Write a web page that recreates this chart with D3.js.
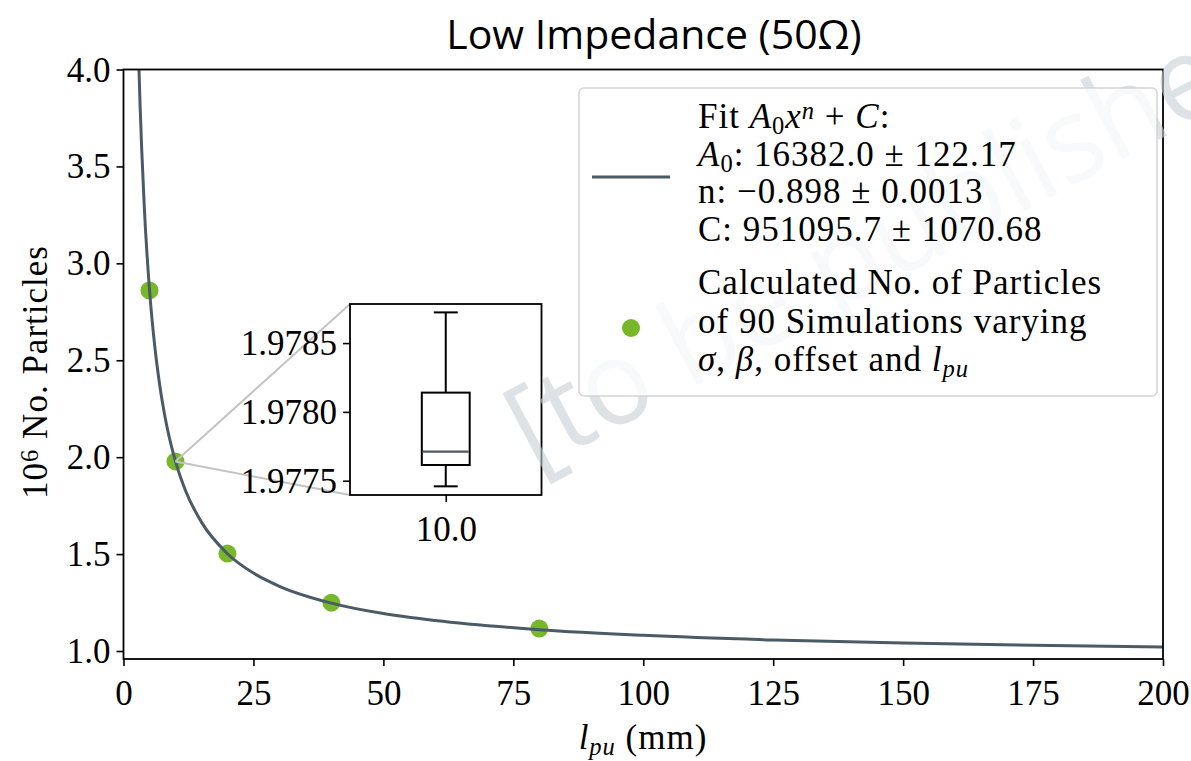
<!DOCTYPE html>
<html>
<head>
<meta charset="utf-8">
<script src="https://cdn.jsdelivr.net/npm/d3@7/dist/d3.min.js"></script>
<style>
  html, body { margin: 0; padding: 0; background: #fff; }
  svg { display: block; }
  .serif { font-family: "Liberation Serif", "DejaVu Serif", serif; }
</style>
</head>
<body>
<svg id="chart" width="1191" height="761"></svg>
<script>
// ---------------- data ----------------
const pointX = [5, 10, 20, 40, 80];
const pointY = [2.86, 1.978, 1.503, 1.249, 1.116];

// fit curve
const fitX = [2.9, 3.2, 3.5, 4, 5, 6, 7, 8, 10, 12, 15, 20, 25, 30, 40, 50, 60, 80, 100, 125, 150, 175, 200];
const fitY = [4.07, 3.81, 3.59, 3.29, 2.865, 2.576, 2.366, 2.206, 1.978, 1.823, 1.665, 1.502, 1.402, 1.334, 1.247, 1.193, 1.157, 1.110, 1.081, 1.057, 1.041, 1.030, 1.021];

const xTicks = [0, 25, 50, 75, 100, 125, 150, 175, 200];
const yTicks = [1.0, 1.5, 2.0, 2.5, 3.0, 3.5, 4.0];

// inset box plot (x = 10.0)
const boxPos = 10.0;
const boxStats = { low: 1.977459, q1: 1.977614, median: 1.977711, q3: 1.978140, high: 1.978723 };
const insetYTicks = [1.9775, 1.9780, 1.9785];

const titleText = "Low Impedance (50Ω)";
const watermarkText = "[to be published]";

// ---------------- layout ----------------
const svg = d3.select("#chart");
const M = { left: 123.5, right: 1163, top: 69.5, bottom: 659 };
const x = d3.scaleLinear().domain([0, 200]).range([M.left, M.right]);
const y = d3.scaleLinear().domain([0.9588, 4.0]).range([M.bottom, M.top]);

const curveColor = "#4b5b66";
const dotColor = "#76b82a";
const fontSize = 35;
const wordSpacing = 1.0;

// clip for plot area
svg.append("defs").append("clipPath").attr("id", "plotclip")
  .append("rect").attr("x", M.left).attr("y", M.top)
  .attr("width", M.right - M.left).attr("height", M.bottom - M.top);

const fitData = fitX.map((v, i) => [v, fitY[i]]);
const lineGen = d3.line().x(d => x(d[0])).y(d => y(d[1])).curve(d3.curveMonotoneX);

// points
const pts = pointX.map((v, i) => [v, pointY[i]]);
svg.append("g").selectAll("circle").data(pts).join("circle")
  .attr("cx", d => x(d[0])).attr("cy", d => y(d[1])).attr("r", 9)
  .attr("fill", dotColor);

// fit curve (over the dots)
svg.append("path")
  .datum(fitData)
  .attr("clip-path", "url(#plotclip)")
  .attr("fill", "none")
  .attr("stroke", curveColor)
  .attr("stroke-width", 3)
  .attr("d", lineGen);

// axes
const xAxis = svg.append("g").attr("transform", `translate(0,${M.bottom})`)
  .call(d3.axisBottom(x).tickValues(xTicks).tickFormat(d3.format("d")).tickSize(7).tickPadding(6));
const yAxis = svg.append("g").attr("transform", `translate(${M.left},0)`)
  .call(d3.axisLeft(y).tickValues(yTicks).tickFormat(d3.format(".1f")).tickSize(7).tickPadding(6));
[xAxis, yAxis].forEach(g => {
  g.select(".domain").remove();
  g.selectAll(".tick line").attr("stroke", "#000").attr("stroke-width", 1.6);
  g.selectAll(".tick text").attr("class", "serif").attr("font-size", fontSize).attr("fill", "#000");
});
xAxis.selectAll(".tick text").attr("dy", "0.95em");
yAxis.selectAll(".tick text").attr("dy", "0.33em");

// frame
svg.append("rect").attr("x", M.left).attr("y", M.top)
  .attr("width", M.right - M.left).attr("height", M.bottom - M.top)
  .attr("fill", "none").attr("stroke", "#000").attr("stroke-width", 1.8);

// ---------------- inset ----------------
const I = { left: 350, right: 541.5, top: 304, bottom: 495 };
const ix = d3.scaleLinear().domain([9.6, 10.4]).range([I.left, I.right]);
const iy = d3.scaleLinear().domain([1.977396, 1.978784]).range([I.bottom, I.top]);

// connector lines
const cx0 = x(pointX[1]), cy0 = y(pointY[1]);
svg.append("g").selectAll("line").data([I.top, I.bottom]).join("line")
  .attr("x1", cx0).attr("y1", cy0).attr("x2", I.left).attr("y2", d => d)
  .attr("stroke", "#c3c3c3").attr("stroke-width", 2);

const inset = svg.append("g");
inset.append("rect").attr("x", I.left).attr("y", I.top)
  .attr("width", I.right - I.left).attr("height", I.bottom - I.top)
  .attr("fill", "#fff");

const bw = 0.2, cw = 0.1;
const bc = ix(boxPos);
inset.append("line").attr("x1", bc).attr("x2", bc).attr("y1", iy(boxStats.q3)).attr("y2", iy(boxStats.high))
  .attr("stroke", "#000").attr("stroke-width", 2);
inset.append("line").attr("x1", bc).attr("x2", bc).attr("y1", iy(boxStats.q1)).attr("y2", iy(boxStats.low))
  .attr("stroke", "#000").attr("stroke-width", 2);
inset.append("line").attr("x1", ix(boxPos - cw / 2)).attr("x2", ix(boxPos + cw / 2))
  .attr("y1", iy(boxStats.high)).attr("y2", iy(boxStats.high)).attr("stroke", "#000").attr("stroke-width", 2);
inset.append("line").attr("x1", ix(boxPos - cw / 2)).attr("x2", ix(boxPos + cw / 2))
  .attr("y1", iy(boxStats.low)).attr("y2", iy(boxStats.low)).attr("stroke", "#000").attr("stroke-width", 2);
inset.append("rect").attr("x", ix(boxPos - bw / 2)).attr("y", iy(boxStats.q3))
  .attr("width", ix(boxPos + bw / 2) - ix(boxPos - bw / 2)).attr("height", iy(boxStats.q1) - iy(boxStats.q3))
  .attr("fill", "none").attr("stroke", "#000").attr("stroke-width", 2);
inset.append("line").attr("x1", ix(boxPos - bw / 2) + 1).attr("x2", ix(boxPos + bw / 2) - 1)
  .attr("y1", iy(boxStats.median)).attr("y2", iy(boxStats.median)).attr("stroke", curveColor).attr("stroke-width", 2.4);

const ixAxis = inset.append("g").attr("transform", `translate(0,${I.bottom})`)
  .call(d3.axisBottom(ix).tickValues([boxPos]).tickFormat(d3.format(".1f")).tickSize(7).tickPadding(6));
const iyAxis = inset.append("g").attr("transform", `translate(${I.left},0)`)
  .call(d3.axisLeft(iy).tickValues(insetYTicks).tickFormat(d3.format(".4f")).tickSize(7).tickPadding(6));
[ixAxis, iyAxis].forEach(g => {
  g.select(".domain").remove();
  g.selectAll(".tick line").attr("stroke", "#000").attr("stroke-width", 1.6);
  g.selectAll(".tick text").attr("class", "serif").attr("font-size", fontSize).attr("fill", "#000");
});
ixAxis.selectAll(".tick text").attr("dy", "0.95em");
iyAxis.selectAll(".tick text").attr("dy", "0.33em");
inset.append("rect").attr("x", I.left).attr("y", I.top)
  .attr("width", I.right - I.left).attr("height", I.bottom - I.top)
  .attr("fill", "none").attr("stroke", "#000").attr("stroke-width", 1.8);

// ---------------- watermark ----------------
svg.append("text")
  .attr("transform", "translate(534,472) rotate(-28) scale(0.96,1)")
  .attr("font-family", "'Open Sans', 'Noto Sans', sans-serif")
  .attr("font-size", 118)
  .attr("fill", "#c4cfd5")
  .attr("fill-opacity", 0.6)
  .text(watermarkText);

// ---------------- legend ----------------
const L = { left: 579, top: 88, right: 1157, bottom: 396 };
const leg = svg.append("g");
leg.append("rect").attr("x", L.left).attr("y", L.top)
  .attr("width", L.right - L.left).attr("height", L.bottom - L.top)
  .attr("rx", 5).attr("fill", "#fff").attr("fill-opacity", 0.8)
  .attr("stroke", "#d4d4d4").attr("stroke-width", 1.5);
leg.append("line").attr("x1", 592).attr("x2", 670).attr("y1", 177).attr("y2", 177)
  .attr("stroke", curveColor).attr("stroke-width", 3);
leg.append("circle").attr("cx", 631).attr("cy", 328).attr("r", 9).attr("fill", dotColor);

// rich text helper: segments
function rich(g, xPos, yPos, segs) {
  const t = g.append("text").attr("class", "serif").attr("x", xPos).attr("y", yPos)
    .attr("font-size", fontSize).attr("fill", "#000").attr("letter-spacing", wordSpacing);
  segs.forEach(s => {
    const ts = t.append("tspan").text(s.t);
    if (s.i) ts.attr("font-style", "italic");
    if (s.sub) ts.attr("baseline-shift", "-25%").attr("font-size", fontSize * 0.7);
    if (s.sup) ts.attr("baseline-shift", "38%").attr("font-size", fontSize * 0.7);
  });
  return t;
}
const lx = 698;
rich(leg, lx, 128, [{ t: "Fit " }, { t: "A", i: 1 }, { t: "0", sub: 1 }, { t: "x", i: 1 }, { t: "n", i: 1, sup: 1 }, { t: " + " }, { t: "C", i: 1 }, { t: ":" }]);
rich(leg, lx, 166, [{ t: "A", i: 1 }, { t: "0", sub: 1 }, { t: ": 16382.0 ± 122.17" }]);
rich(leg, lx, 203, [{ t: "n:  −0.898 ± 0.0013" }]);
rich(leg, lx, 241, [{ t: "C: 951095.7 ± 1070.68" }]);
rich(leg, lx, 294, [{ t: "Calculated No. of Particles" }]);
rich(leg, lx, 333, [{ t: "of 90 Simulations varying" }]);
rich(leg, lx, 371, [{ t: "σ", i: 1 }, { t: ", " }, { t: "β", i: 1 }, { t: ", offset and " }, { t: "l", i: 1 }, { t: "pu", i: 1, sub: 1 }]);

// ---------------- labels ----------------
const ylab = rich(svg, 0, 0, [{ t: "10" }, { t: "6", sup: 1 }, { t: " No. Particles" }]);
ylab.attr("x", null).attr("y", null).attr("text-anchor", "middle")
  .attr("transform", `translate(47,372) rotate(-90)`);
const xlab = rich(svg, 643, 749, [{ t: "l", i: 1 }, { t: "pu", i: 1, sub: 1 }, { t: " (mm)" }]);
xlab.attr("text-anchor", "middle");

// title
svg.append("text").attr("x", 654).attr("y", 49).attr("text-anchor", "middle")
  .attr("font-family", "'Open Sans', 'Noto Sans', sans-serif").attr("font-size", 41).attr("fill", "#000")
  .text(titleText);
</script>
</body>
</html>
